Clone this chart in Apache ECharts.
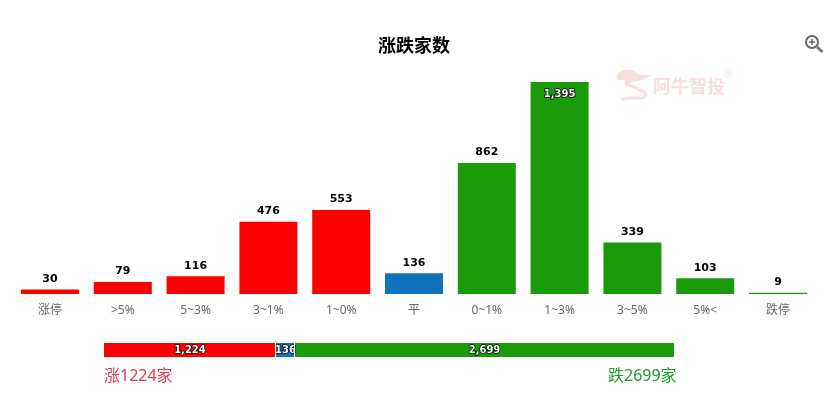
<!DOCTYPE html>
<html><head><meta charset="utf-8">
<style>html,body{margin:0;padding:0;background:#fff}#c{width:835px;height:396px}</style>
<script src="https://cdn.jsdelivr.net/npm/echarts@6/dist/echarts.min.js"></script>
</head><body><div id="c"></div>
<script>
const categories = ['涨停','>5%','5~3%','3~1%','1~0%','平','0~1%','1~3%','3~5%','5%<','跌停'];
const counts = [30,79,116,476,553,136,862,1395,339,103,9];
const barKinds = ['up','up','up','up','up','flat','down','down','down','down','down'];
const summaryNames = ['涨','平','跌'];
const summaryValues = [1224,136,2699];
const palette = {up:'#ff0000',flat:'#1071bd',down:'#1a9c0a'};
const FONT = '"Noto Sans","Noto Sans CJK SC",sans-serif';
const total = summaryValues.reduce((a,b)=>a+b,0);

const insideLabel = {show:true,color:'#fff',fontSize:10,fontWeight:'bold',fontFamily:'"DejaVu Sans",sans-serif',
  textBorderColor:'#000',textBorderWidth:1.5};
const kinds = ['up','flat','down'];
const mark = '#f9dede';

const chart = echarts.init(document.getElementById('c'),null,{renderer:'canvas'});
chart.setOption({
  animation:false,
  backgroundColor:'#fff',
  title:{text:'涨跌家数',left:378,top:36,padding:0,textStyle:{fontSize:18,fontWeight:'bold',color:'#000',fontFamily:'"Noto Sans CJK SC",sans-serif'}},
  grid:[
    {left:13.6,right:20.6,top:82,height:212},
    {left:104,width:570,top:343,height:14}
  ],
  xAxis:[
    {type:'category',gridIndex:0,data:categories,axisLine:{show:false},axisTick:{show:false},
     axisLabel:{interval:0,color:'#666',fontSize:12,margin:10.5,fontFamily:FONT}},
    {type:'value',gridIndex:1,min:0,max:total,show:false}
  ],
  yAxis:[
    {type:'value',gridIndex:0,min:0,max:Math.max(...counts),show:false},
    {type:'category',gridIndex:1,data:['合计'],show:false}
  ],
  series:[
    {type:'bar',xAxisIndex:0,yAxisIndex:0,barWidth:58,
     data:counts.map((v,i)=>{
       const top = v===Math.max(...counts);
       return {value:v,itemStyle:{color:palette[barKinds[i]]},
         label: top ? {position:'insideTop',distance:7,color:'#fff',textBorderColor:'#000',textBorderWidth:1.5,fontSize:10} : {position:'top'}};
     }),
     label:{show:true,position:'top',distance:5,color:'#000',fontSize:11,fontWeight:'bold',
       fontFamily:'"DejaVu Sans",sans-serif',textBorderColor:'#fff',textBorderWidth:2,
       formatter:p=>p.value.toLocaleString('en-US')}},
    ...summaryValues.map((v,i)=>({
      type:'bar',name:summaryNames[i],stack:'sum',xAxisIndex:1,yAxisIndex:1,barWidth:14,
      itemStyle:{color:palette[kinds[i]]},
      label:{...insideLabel,position:'inside',formatter:p=>p.value.toLocaleString('en-US')},
      data:[v]
    }))
  ],
  graphic:[
    {type:'text',left:104,top:368,style:{text:summaryNames[0]+summaryValues[0]+'家',fill:'#e2394b',fontSize:16,fontFamily:FONT}},
    {type:'text',left:608,top:368,style:{text:summaryNames[2]+summaryValues[2]+'家',fill:'#1a9c2a',fontSize:16,fontFamily:FONT}},
    {type:'text',left:653,top:79,style:{text:'阿牛智投',fill:mark,fontSize:18,fontWeight:'bold',fontFamily:FONT}},
    {type:'text',left:724,top:71,style:{text:'®',fill:mark,fontSize:10,fontFamily:FONT}},
    {type:'polygon',silent:true,shape:{smooth:0.3,points:[[617,75],[623,70],[632,70],[640,75],[651,75],[642,80],[632,82],[626,85],[624,80],[618,80]]},style:{fill:mark}},
    {type:'polyline',silent:true,shape:{smooth:0.3,points:[[626,84],[638,89],[646,94],[642,98],[630,98],[621,100]]},style:{fill:'none',stroke:mark,lineWidth:3}},
    {type:'line',shape:{x1:275.5,y1:343,x2:275.5,y2:357},style:{stroke:'#fff',lineWidth:1},z:10},
    {type:'line',shape:{x1:294.5,y1:343,x2:294.5,y2:357},style:{stroke:'#fff',lineWidth:1},z:10},
    {type:'circle',shape:{cx:812,cy:42,r:6},style:{fill:'none',stroke:'#666',lineWidth:2}},
    {type:'line',shape:{x1:817,y1:47,x2:822.5,y2:52},style:{stroke:'#777',lineWidth:3}},
    {type:'line',shape:{x1:809,y1:42,x2:815,y2:42},style:{stroke:'#666',lineWidth:1.5}},
    {type:'line',shape:{x1:812,y1:39,x2:812,y2:45},style:{stroke:'#666',lineWidth:1.5}}
  ]
});
</script></body></html>
